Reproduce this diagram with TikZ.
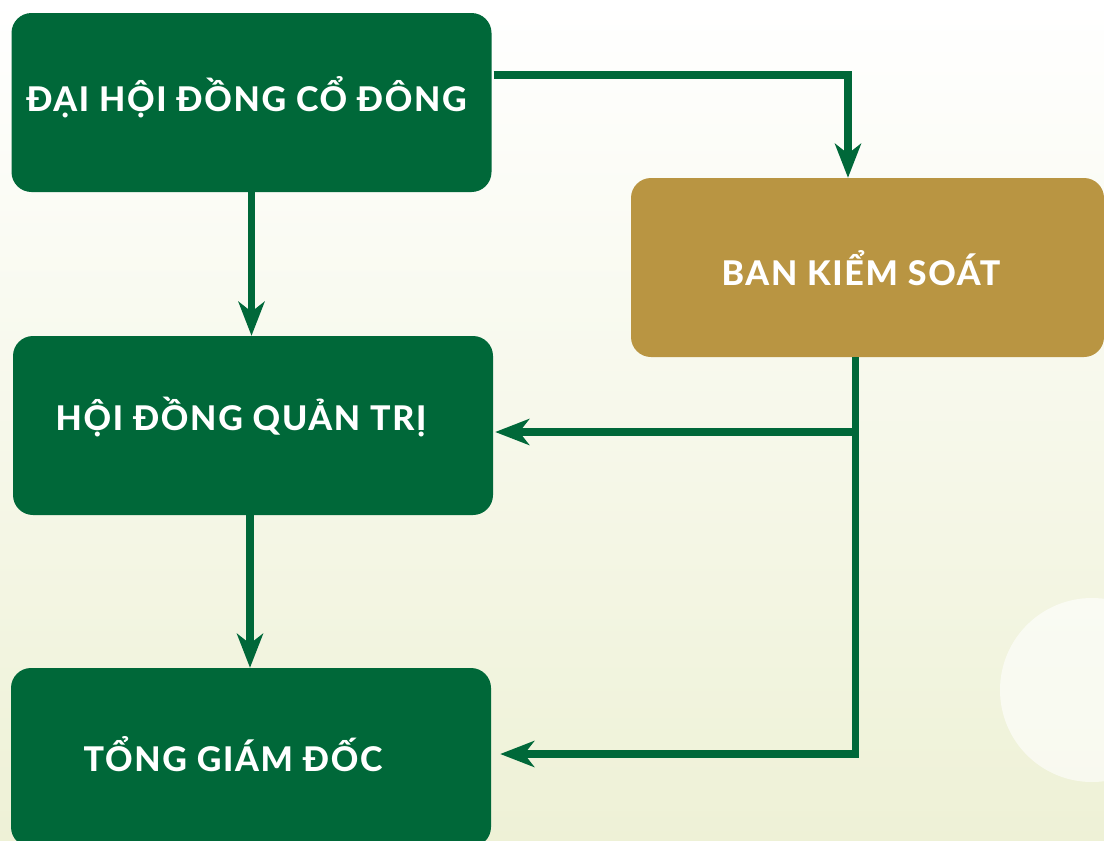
\documentclass[tikz,border=0pt]{standalone}
\usepackage{fontspec}
\setmainfont{Lato}[BoldFont = Lato Heavy]
\usepackage{xcolor}
\usepackage{tikz}
\usetikzlibrary{calc, arrows.meta, positioning}
\definecolor{dhgreen}{RGB}{0,104,57}
\definecolor{bksgold}{RGB}{185,149,66}
\definecolor{bgmid}{RGB}{246,248,232}
\definecolor{bglow}{RGB}{238,241,214}
\tikzset{
    greennode/.style = {draw=none, fill=dhgreen, rectangle, rounded corners=20pt, inner sep = 0em,
      node distance=0em, minimum width=480pt, minimum height=179pt},
    goldnode/.style = {greennode, fill=bksgold, minimum width=473pt},
    textnode/.style  = {draw=none, fill=none, rectangle, inner sep = 0em, anchor=base,
      text=white, font=\fontsize{34}{37}\bfseries\addfontfeatures{LetterSpace=5}},
    connect/.style = {draw=dhgreen, line width=7.5pt, line join=miter,
      -{Stealth[length=34pt, width=26pt, inset=10pt]}}
}

\begin{document}
\begin{tikzpicture}[x=1pt, y=-1pt]
\useasboundingbox (0,0) rectangle (1104,841);
\shade [top color=white, middle color=bgmid, bottom color=bglow] (0,0) rectangle (1104,841);
\fill [white, opacity=0.6] (1092,690) circle (92);

\node [greennode, name = dhdcd] at (251.5,102.5) {};
\node [greennode, name = hdqt, below of = dhdcd, xshift=1.5pt, yshift=-323pt] {};
\node [greennode, name = tgd, below of = hdqt, xshift=-2pt, yshift=-332pt] {};
\node [goldnode, name = bks, right of = dhdcd, xshift=616pt, yshift=-165pt] {};

\node [textnode, name = dhdcdtext] at ([xshift=-5pt, yshift=-8.5pt]dhdcd.center) {ĐẠI HỘI ĐỒNG CỔ ĐÔNG};
\node [textnode, name = hdqttext] at ([xshift=-12pt, yshift=-4.5pt]hdqt.center) {HỘI ĐỒNG QUẢN TRỊ};
\node [textnode, name = tgdtext] at ([xshift=-18pt, yshift=-14pt]tgd.center) {TỔNG GIÁM ĐỐC};
\node [textnode, name = bkstext] at ([xshift=-6.5pt, yshift=-17.5pt]bks.center) {BAN KIỂM SOÁT};

\coordinate (bksdrop) at ([xshift=-12pt]bks.south);
\coordinate (hdqtin) at ([yshift=-6.5pt]hdqt.east);
\coordinate (tgdin) at ([xshift=9pt, yshift=3.5pt]tgd.east);

\draw [connect] ([xshift=2pt, yshift=27.5pt]dhdcd.east) -| ([xshift=-19.5pt]bks.north);
\draw [connect] (dhdcd.south) -- (dhdcd.south |- hdqt.north);
\draw [connect] ([xshift=-3pt]hdqt.south) -- ([xshift=-1pt]tgd.north);
\draw [connect] (bksdrop) |- (tgdin);
\draw [connect] (bksdrop |- hdqtin) -- ([xshift=2pt]hdqtin);
\end{tikzpicture}
\end{document}
